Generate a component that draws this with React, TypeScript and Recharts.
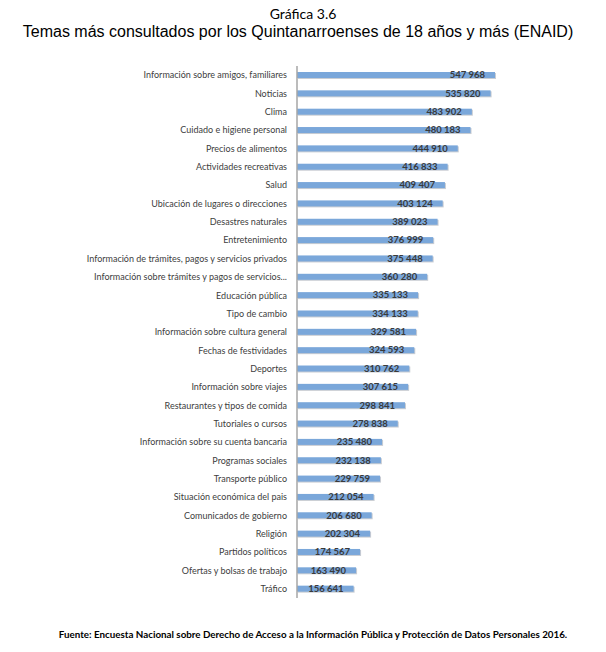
import React from "react";
import { BarChart, Bar, XAxis, YAxis, LabelList } from "recharts";

const categories = [
  "Información sobre amigos, familiares",
  "Noticias",
  "Clima",
  "Cuidado e higiene personal",
  "Precios de alimentos",
  "Actividades recreativas",
  "Salud",
  "Ubicación de lugares o direcciones",
  "Desastres naturales",
  "Entretenimiento",
  "Información de trámites, pagos y servicios privados",
  "Información sobre trámites y pagos de servicios...",
  "Educación pública",
  "Tipo de cambio",
  "Información sobre cultura general",
  "Fechas de festividades",
  "Deportes",
  "Información sobre viajes",
  "Restaurantes y tipos de comida",
  "Tutoriales o cursos",
  "Información sobre su cuenta bancaria",
  "Programas sociales",
  "Transporte público",
  "Situación económica del pais",
  "Comunicados de gobierno",
  "Religión",
  "Partidos políticos",
  "Ofertas y bolsas de trabajo",
  "Tráfico",
];

const values = [
  547968, 535820, 483902, 480183, 444910, 416833, 409407, 403124, 389023,
  376999, 375448, 360280, 335133, 334133, 329581, 324593, 310762, 307615,
  298841, 278838, 235480, 232138, 229759, 212054, 206680, 202304, 174567,
  163490, 156641,
];

const title1 = "Gráfica 3.6";
const title2 = "Temas más consultados por los Quintanarroenses de 18 años y más (ENAID)";
const source =
  "Fuente: Encuesta Nacional sobre Derecho de Acceso a la Información Pública y Protección de Datos Personales 2016.";

const data = categories.map((c, i) => ({ name: c, value: values[i] }));

const fmt = (v: number) => String(v).replace(/\B(?=(\d{3})+(?!\d))/g, " ");

const FONT = "Lato, 'Open Sans', sans-serif";

const BarShape = (props: any) => {
  const { x, y, width, height } = props;
  if (width <= 0) return null;
  return (
    <g>
      <rect x={x + 1} y={y + 1} width={width} height={height} fill="#c9cdd3" />
      <rect x={x} y={y} width={width} height={height} fill="#7AA7DA" />
    </g>
  );
};

const CatTick = (props: any) => {
  const { x, y, payload } = props;
  return (
    <text
      x={x}
      y={y}
      dy={3.2}
      textAnchor="end"
      fontSize={9}
      fill="#404040"
      fontFamily={FONT}
    >
      {payload.value}
    </text>
  );
};

const ValueLabel = (props: any) => {
  const { x, y, width, height, value } = props;
  return (
    <text
      x={x + width - 10}
      y={y + height / 2}
      dy={3.3}
      textAnchor="end"
      fontSize={9.5}
      fontWeight={700}
      fill="#3a3a3a"
      fontFamily={FONT}
    >
      {fmt(Number(value))}
    </text>
  );
};

export default function App() {
  return (
    <div
      style={{
        position: "absolute",
        left: 0,
        top: 0,
        width: 606,
        height: 652,
        background: "#ffffff",
        overflow: "hidden",
      }}
    >
      <div
        style={{
          position: "absolute",
          left: 0,
          top: 5,
          width: 606,
          textAlign: "center",
          fontFamily: FONT,
          fontSize: 14,
          color: "#000",
        }}
      >
        {title1}
      </div>
      <div
        style={{
          position: "absolute",
          left: -5,
          top: 23,
          width: 606,
          textAlign: "center",
          fontFamily: "'Liberation Sans', Arial, sans-serif",
          fontSize: 16,
          color: "#000",
        }}
      >
        {title2}
      </div>
      <div style={{ position: "absolute", left: 0, top: 0 }}>
        <BarChart
          width={606}
          height={652}
          data={data}
          layout="vertical"
          margin={{ top: 66, right: 111, bottom: 54, left: 0 }}
          barCategoryGap={0}
        >
          <XAxis type="number" domain={[0, 547968]} hide />
          <YAxis
            type="category"
            dataKey="name"
            width={297}
            interval={0}
            tickLine={false}
            tickSize={6}
            tickMargin={4}
            axisLine={{ stroke: "#a6a6a6", strokeWidth: 1.5 }}
            tick={<CatTick />}
          />
          <Bar
            dataKey="value"
            barSize={6}
            isAnimationActive={false}
            shape={<BarShape />}
          >
            <LabelList dataKey="value" content={<ValueLabel />} />
          </Bar>
        </BarChart>
      </div>
      <div
        style={{
          position: "absolute",
          left: 0,
          top: 628,
          width: 606,
          paddingLeft: 20,
          boxSizing: "border-box",
          textAlign: "center",
          fontFamily: FONT,
          fontSize: 9.8,
          fontWeight: 700,
          color: "#000",
        }}
      >
        {source}
      </div>
    </div>
  );
}
